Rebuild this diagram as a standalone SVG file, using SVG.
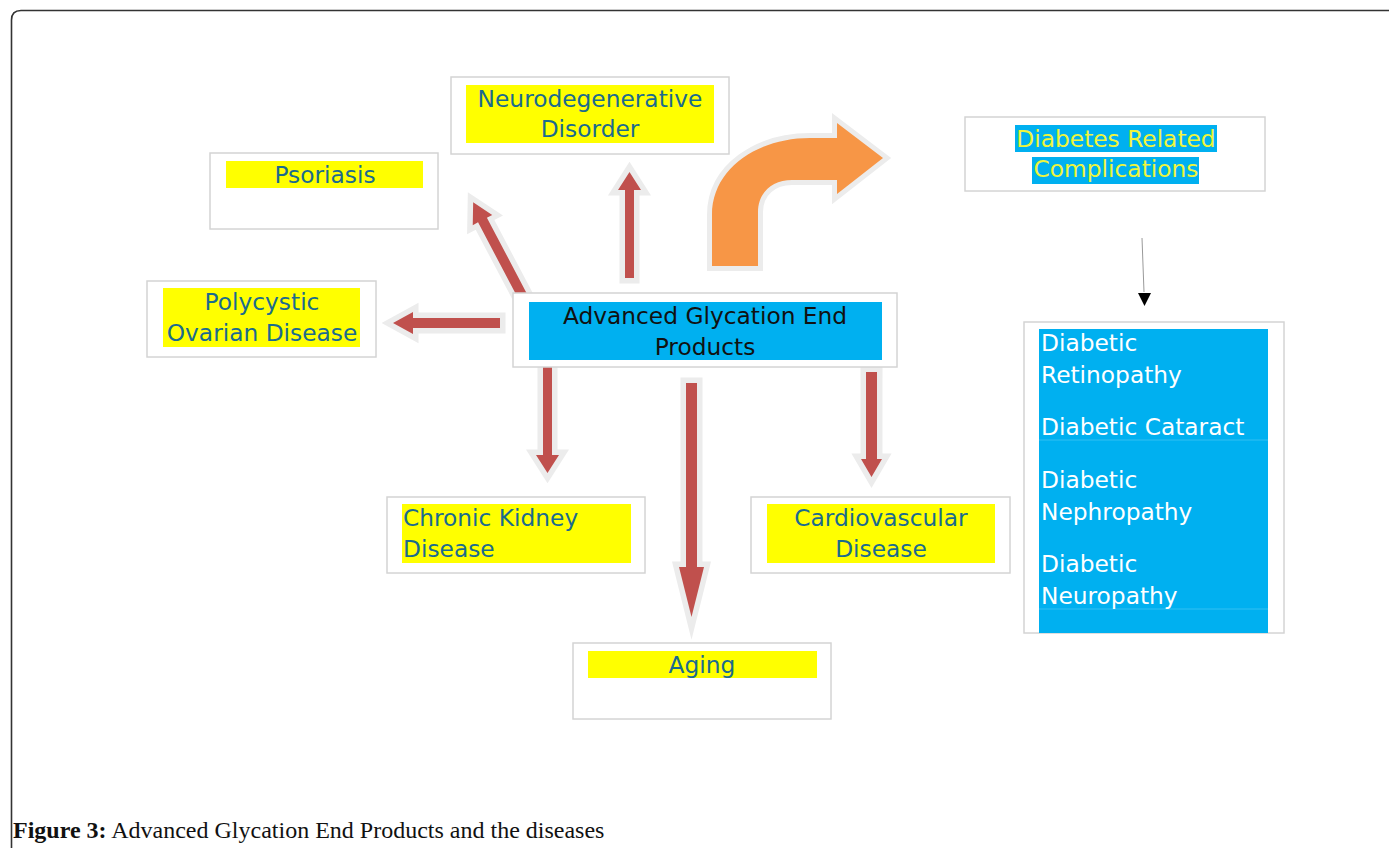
<svg xmlns="http://www.w3.org/2000/svg" width="1389" height="848" viewBox="0 0 1389 848">
<style>
.box{fill:#ffffff;stroke:#d4d4d4;stroke-width:1.5}
.hl{fill:#ffff00}
.blue{fill:#00b0f0}
.t{font-family:"DejaVu Sans",sans-serif;font-size:23.3px;fill:#1b6b8e}
.c{text-anchor:middle}
.tk{font-family:"DejaVu Sans",sans-serif;font-size:23.3px;fill:#111111}
.tw{font-family:"DejaVu Sans",sans-serif;font-size:23.3px;fill:#ffffff}
.ty{font-family:"DejaVu Sans",sans-serif;font-size:23.3px;fill:#eef53c}
.red{fill:#c0504d;stroke:#ececec;stroke-width:11;paint-order:stroke;stroke-linejoin:miter;stroke-miterlimit:6}
.org{fill:#f79646;stroke:#ececec;stroke-width:10;paint-order:stroke;stroke-linejoin:miter;stroke-miterlimit:6}
.cap{font-family:"Liberation Serif",serif;font-size:24px;fill:#111111}
</style>
<rect width="1389" height="848" fill="#ffffff"/>
<path d="M11.5,848 V20 Q11.5,10.5 21,10.5 H1389" fill="none" stroke="#333333" stroke-width="1.6"/>

<g id="connectors">
<path class="red" d="M625,278 V190 H618 L629.5,172 L641,190 H634 V278 Z"/>
<path class="red" transform="translate(523,297) rotate(-117.76)" d="M0,-5 H87 V-11 L107,0 L87,11 V5 H0 Z"/>
<path class="red" d="M500,318 H413 V312 L393,323 L413,334 V328 H500 Z"/>
<path class="red" d="M543,367 H552 V455 H559 L547.5,473 L536,455 H543 Z"/>
<path class="red" d="M686,383 H697 V567 H704 L691.5,617 L679,567 H686 Z"/>
<path class="red" d="M866,372 H877 V459 H882 L871.5,477 L861,459 H866 Z"/>
<path class="org" d="M712,266 V215 C712,168 758,138 810,138 H837 V123 L883,158 L837,194 V180 H792 C773,180 758,192 758,212 V266 Z"/>
<line x1="1142" y1="238" x2="1144" y2="292" stroke="#999999" stroke-width="1"/>
<path d="M1138,293 H1151 L1144.5,306 Z" fill="#000000"/>
</g>

<g id="neuro">
<rect class="box" x="451" y="77" width="278" height="77"/>
<rect class="hl" x="466" y="85" width="248" height="58"/>
<text class="t c" x="590" y="107">Neurodegenerative</text>
<text class="t c" x="590" y="137">Disorder</text>
</g>

<g id="psoriasis">
<rect class="box" x="210" y="153" width="228" height="76"/>
<rect class="hl" x="226" y="161" width="197" height="27"/>
<text class="t c" x="325" y="183">Psoriasis</text>
</g>

<g id="polycystic">
<rect class="box" x="147" y="281" width="229" height="76"/>
<rect class="hl" x="163" y="288" width="197" height="59"/>
<text class="t c" x="262" y="310">Polycystic</text>
<text class="t c" x="262" y="341">Ovarian Disease</text>
</g>

<g id="age">
<rect class="box" x="513" y="293" width="384" height="74"/>
<rect class="blue" x="529" y="302" width="353" height="58"/>
<text class="tk c" x="705" y="324">Advanced Glycation End</text>
<text class="tk c" x="705" y="355">Products</text>
</g>

<g id="diabetes">
<rect class="box" x="965" y="117" width="300" height="74"/>
<rect class="blue" x="1015" y="125" width="202" height="27"/>
<rect class="blue" x="1032" y="157" width="167" height="27"/>
<text class="ty c" x="1116" y="147">Diabetes Related</text>
<text class="ty c" x="1116" y="177">Complications</text>
</g>

<g id="diabetic-list">
<rect class="box" x="1024" y="322" width="260" height="311"/>
<rect class="blue" x="1039" y="329" width="229" height="304"/>
<line x1="1039" y1="440" x2="1268" y2="440" stroke="#33bff2" stroke-width="1"/>
<line x1="1039" y1="609" x2="1268" y2="609" stroke="#33bff2" stroke-width="1"/>
<text class="tw" x="1041" y="351">Diabetic</text>
<text class="tw" x="1041" y="383">Retinopathy</text>
<text class="tw" x="1041" y="435">Diabetic Cataract</text>
<text class="tw" x="1041" y="488">Diabetic</text>
<text class="tw" x="1041" y="520">Nephropathy</text>
<text class="tw" x="1041" y="572">Diabetic</text>
<text class="tw" x="1041" y="604">Neuropathy</text>
</g>

<g id="ckd">
<rect class="box" x="387" y="497" width="258" height="76"/>
<rect class="hl" x="402" y="504" width="229" height="59"/>
<text class="t" x="403" y="526">Chronic Kidney</text>
<text class="t" x="403" y="557">Disease</text>
</g>

<g id="cardio">
<rect class="box" x="751" y="497" width="259" height="76"/>
<rect class="hl" x="767" y="504" width="228" height="59"/>
<text class="t c" x="881" y="526">Cardiovascular</text>
<text class="t c" x="881" y="557">Disease</text>
</g>

<g id="aging">
<rect class="box" x="573" y="643" width="258" height="76"/>
<rect class="hl" x="588" y="651" width="229" height="27"/>
<text class="t c" x="702" y="673">Aging</text>
</g>

<text class="cap" x="13" y="838"><tspan font-weight="bold">Figure 3:</tspan> Advanced Glycation End Products and the diseases</text>
</svg>
